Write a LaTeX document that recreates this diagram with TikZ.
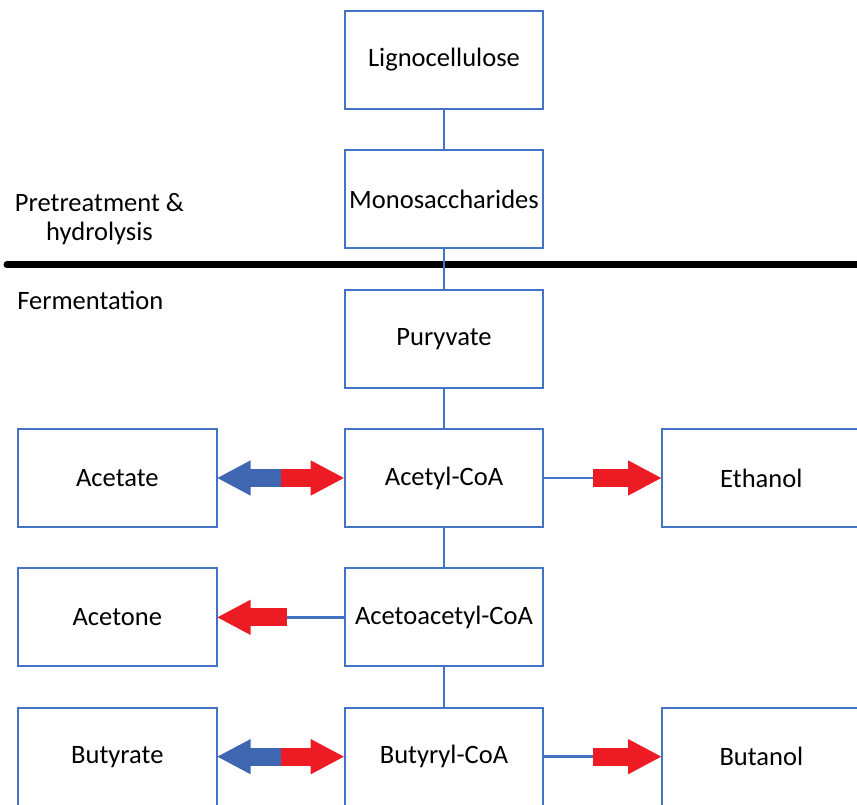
\documentclass[tikz,border=0pt]{standalone}
\usepackage{fontspec}
\setmainfont{Carlito}
\usepackage{tikz}
\usetikzlibrary{positioning,arrows.meta,calc}

\definecolor{boxblue}{HTML}{4472C4}
\definecolor{arrblue}{HTML}{3F67B1}
\definecolor{arrred}{HTML}{ED1C24}

\tikzset{
    box/.style={draw=boxblue,
        line width=1.6pt,
        minimum width=149pt,
        minimum height=73.5pt,
        inner sep=0pt,
        outer sep=0pt,
        font=\fontsize{19.9}{24}\selectfont},
    link/.style={draw=boxblue, line width=1.8pt},
    fat/.style={line width=13.5pt,
        -{Triangle[length=25.5pt,width=24.5pt]}},
    lbl/.style={font=\fontsize{19.9}{21.75}\selectfont, inner sep=0pt}
}

\begin{document}
\begin{tikzpicture}[x=0.75pt,y=-0.75pt]
    \clip (0,0) rectangle (857,805);

    % main chain
    \node[box] (lig) at (444,60) {Lignocellulose};
    \node[box, below=31pt of lig] (mono) {Monosaccharides};
    \node[box, below=31pt of mono] (pury) {Puryvate};
    \node[box, below=31pt of pury] (acetyl) {Acetyl-CoA};
    \node[box, below=31pt of acetyl] (aceto) {Acetoacetyl-CoA};
    \node[box, below=31pt of aceto] (butyryl) {Butyryl-CoA};

    % side products
    \node[box, left=96pt of acetyl] (acetate) {Acetate};
    \node[box, right=89pt of acetyl] (ethanol) {Ethanol};
    \node[box, left=96pt of aceto] (acetone) {Acetone};
    \node[box, left=96pt of butyryl] (butyrate) {Butyrate};
    \node[box, right=89pt of butyryl] (butanol) {Butanol};

    % stage divider
    \coordinate (divL) at (7,265);
    \coordinate (divR) at (870,265);
    \draw[line width=5.25pt, line cap=round] (divL) -- (divR);
    \node[lbl, align=center] (pre) at (99.5,219) {Pretreatment \&\\hydrolysis};
    \node[lbl, anchor=west] (ferm) at (17,300) {Fermentation};

    % vertical links
    \draw[link] (lig.south) -- (mono.north);
    \draw[link] (mono.south) -- (pury.north);
    \draw[link] (pury.south) -- (acetyl.north);
    \draw[link] (acetyl.south) -- (aceto.north);
    \draw[link] (aceto.south) -- (butyryl.north);

    % acetate <-> acetyl-CoA
    \coordinate (m1) at ($(acetate.east)!0.5!(acetyl.west)$);
    \draw[fat, arrblue] (m1) -- (acetate.east);
    \draw[fat, arrred] (m1) -- (acetyl.west);

    % acetyl-CoA -> ethanol
    \coordinate[right=37.5pt of acetyl.east] (e1);
    \draw[link] (acetyl.east) -- (e1);
    \draw[fat, arrred] (e1) -- (ethanol.west);

    % acetoacetyl-CoA -> acetone
    \coordinate[left=43.5pt of aceto.west] (a1);
    \draw[link] (aceto.west) -- (a1);
    \draw[fat, arrred] (a1) -- (acetone.east);

    % butyrate <-> butyryl-CoA
    \coordinate (m2) at ($(butyrate.east)!0.5!(butyryl.west)$);
    \draw[fat, arrblue] (m2) -- (butyrate.east);
    \draw[fat, arrred] (m2) -- (butyryl.west);

    % butyryl-CoA -> butanol
    \coordinate[right=37.5pt of butyryl.east] (b1);
    \draw[link] (butyryl.east) -- (b1);
    \draw[fat, arrred] (b1) -- (butanol.west);

\end{tikzpicture}
\end{document}
